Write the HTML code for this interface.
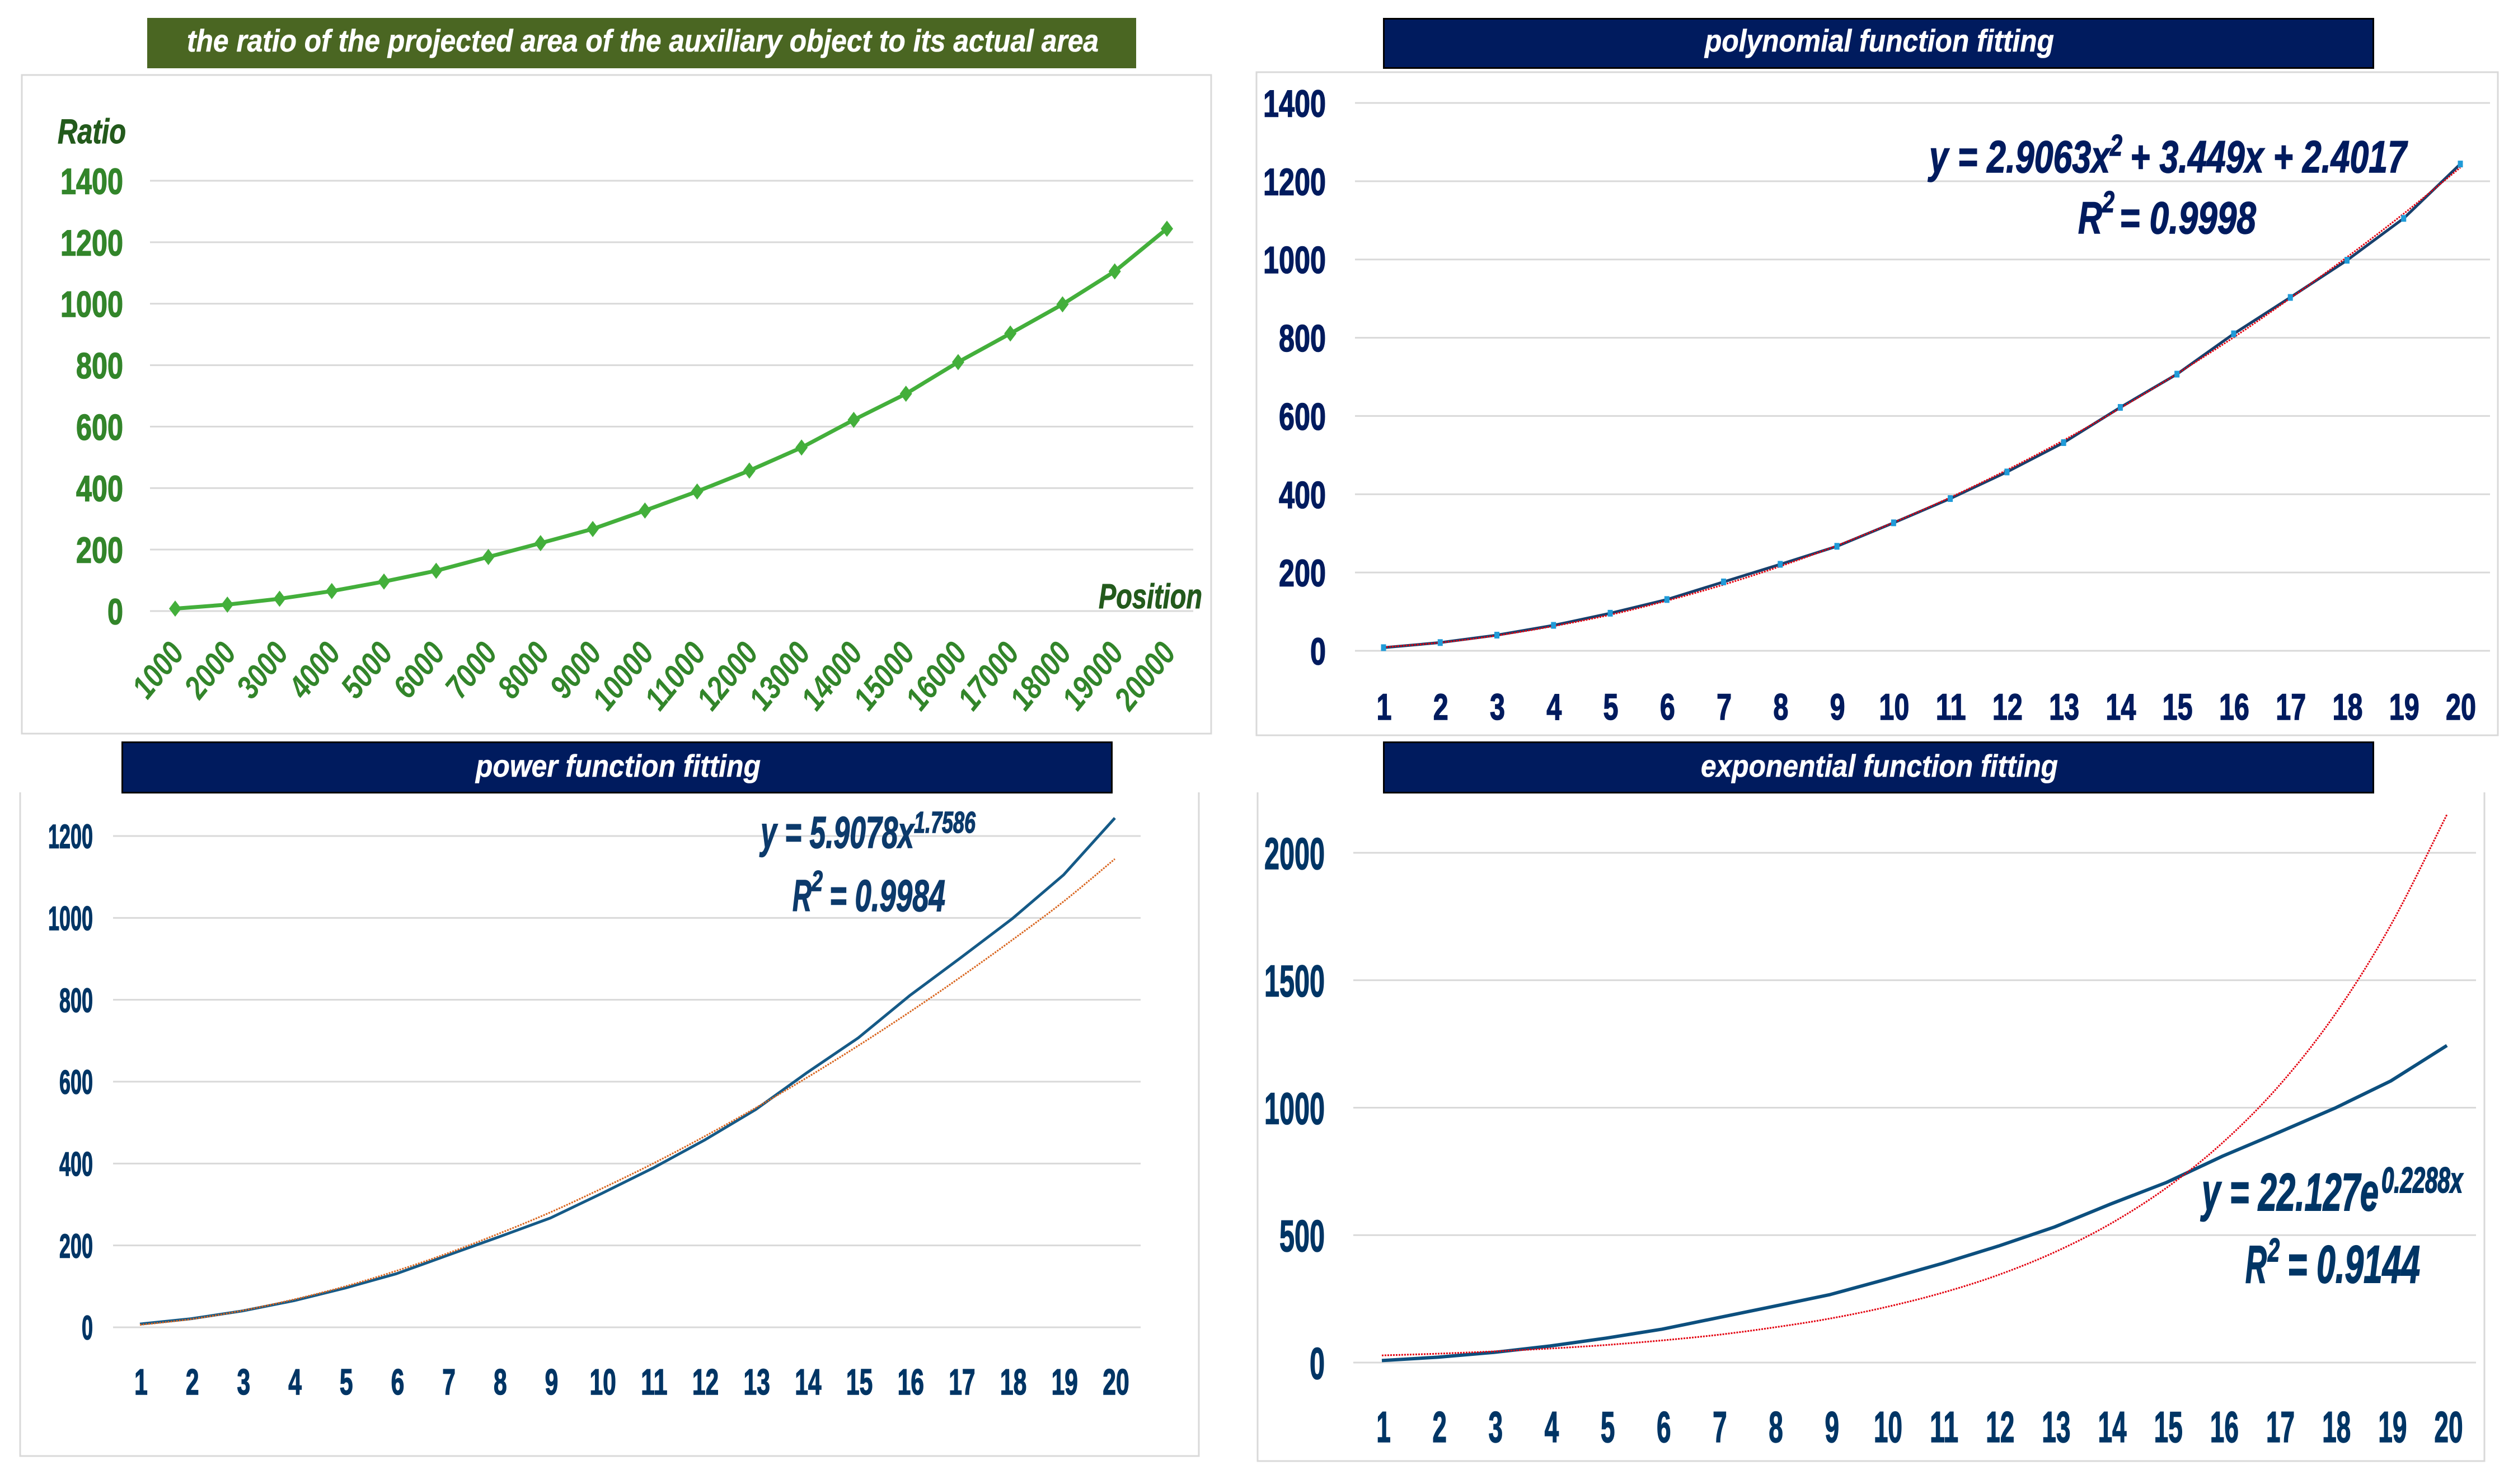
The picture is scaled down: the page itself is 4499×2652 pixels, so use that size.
<!DOCTYPE html>
<html lang="en">
<head>
<meta charset="utf-8">
<title>Projected area ratio and function fitting</title>
<style>
html,body{margin:0;padding:0;background:#fff;}
svg{display:block;font-family:"Liberation Sans",sans-serif;}
text{font-family:"Liberation Sans",sans-serif;font-weight:bold;}
.i{font-style:italic;}
</style>
</head>
<body>
<svg id="root" xmlns="http://www.w3.org/2000/svg" width="4499" height="2652" viewBox="0 0 4499 2652">
  <rect x="0" y="0" width="4499" height="2652" fill="#ffffff"/>

  <rect x="39" y="134" width="2125" height="1177" fill="#fff" stroke="#d9d9d9" stroke-width="3"/>
  <rect x="2245" y="129" width="2218" height="1185" fill="#fff" stroke="#d9d9d9" stroke-width="3"/>
  <path d="M36 1416 V2602 H2142 V1416" fill="none" stroke="#d9d9d9" stroke-width="3"/>
  <path d="M2247 1416 V2611 H4439 V1416" fill="none" stroke="#d9d9d9" stroke-width="3"/>

  <g id="chart-ratio"></g>
  <g id="chart-poly"></g>
  <g id="chart-power"></g>
  <g id="chart-exp"></g>

  <g>
    <rect x="263" y="32" width="1767" height="90" fill="#4a6622"/>
    <text class="i" x="334" y="92" font-size="56" fill="#ffffff" stroke="#ffffff" stroke-width="0.6" textLength="1629" lengthAdjust="spacingAndGlyphs">the ratio of the projected area of the auxiliary object to its actual area</text>
  </g>
  <g>
    <rect x="2472.5" y="33.5" width="1768" height="88" fill="#001b5e" stroke="#000" stroke-width="3"/>
    <text class="i" x="3046" y="92" font-size="56" fill="#ffffff" stroke="#ffffff" stroke-width="0.6" textLength="624" lengthAdjust="spacingAndGlyphs">polynomial function fitting</text>
  </g>
  <g>
    <rect x="218.5" y="1326.5" width="1768" height="90" fill="#001b5e" stroke="#000" stroke-width="3"/>
    <text class="i" x="850" y="1388" font-size="56" fill="#ffffff" stroke="#ffffff" stroke-width="0.6" textLength="509" lengthAdjust="spacingAndGlyphs">power function fitting</text>
  </g>
  <g>
    <rect x="2472.5" y="1326.5" width="1768" height="90" fill="#001b5e" stroke="#000" stroke-width="3"/>
    <text class="i" x="3039" y="1388" font-size="56" fill="#ffffff" stroke="#ffffff" stroke-width="0.6" textLength="638" lengthAdjust="spacingAndGlyphs">exponential function fitting</text>
  </g>

  <text class="i" x="103" y="256" font-size="62" fill="#235a1c" stroke="#235a1c" stroke-width="1" textLength="122" lengthAdjust="spacingAndGlyphs">Ratio</text>
  <text class="i" x="1963" y="1087" font-size="62" fill="#235a1c" stroke="#235a1c" stroke-width="1" textLength="185" lengthAdjust="spacingAndGlyphs">Position</text>

  <g fill="#001b5e" stroke="#001b5e" stroke-width="1.5">
    <text class="i" x="3447" y="308" font-size="81" textLength="323" lengthAdjust="spacingAndGlyphs">y = 2.9063x</text>
    <text class="i" x="3770" y="278" font-size="54" textLength="22" lengthAdjust="spacingAndGlyphs">2</text>
    <text class="i" x="3806" y="308" font-size="81" textLength="494" lengthAdjust="spacingAndGlyphs">+ 3.449x + 2.4017</text>
    <text class="i" x="3713" y="417" font-size="81" textLength="43" lengthAdjust="spacingAndGlyphs">R</text>
    <text class="i" x="3756" y="379" font-size="54" textLength="22" lengthAdjust="spacingAndGlyphs">2</text>
    <text class="i" x="3787" y="417" font-size="81" textLength="244" lengthAdjust="spacingAndGlyphs">= 0.9998</text>
  </g>
  <g fill="#0c3a6b" stroke="#0c3a6b" stroke-width="1.5">
    <text class="i" x="1359" y="1515" font-size="80" textLength="274" lengthAdjust="spacingAndGlyphs">y = 5.9078x</text>
    <text class="i" x="1633" y="1488" font-size="54" textLength="110" lengthAdjust="spacingAndGlyphs">1.7586</text>
    <text class="i" x="1416" y="1628" font-size="80" textLength="34" lengthAdjust="spacingAndGlyphs">R</text>
    <text class="i" x="1450" y="1592" font-size="52" textLength="20" lengthAdjust="spacingAndGlyphs">2</text>
    <text class="i" x="1482" y="1628" font-size="80" textLength="207" lengthAdjust="spacingAndGlyphs">= 0.9984</text>
  </g>
  <g fill="#003565" stroke="#003565" stroke-width="2">
    <text class="i" x="3934" y="2163" font-size="95" textLength="316" lengthAdjust="spacingAndGlyphs">y = 22.127e</text>
    <text class="i" x="4255" y="2131" font-size="64" textLength="145" lengthAdjust="spacingAndGlyphs">0.2288x</text>
    <text class="i" x="4012" y="2292" font-size="95" textLength="38" lengthAdjust="spacingAndGlyphs">R</text>
    <text class="i" x="4052" y="2254" font-size="58" textLength="21" lengthAdjust="spacingAndGlyphs">2</text>
    <text class="i" x="4087" y="2292" font-size="95" textLength="237" lengthAdjust="spacingAndGlyphs">= 0.9144</text>
  </g>
</svg>
<script>
const positionCategories = [1000,2000,3000,4000,5000,6000,7000,8000,9000,10000,11000,12000,13000,14000,15000,16000,17000,18000,19000,20000];
const indexCategories = [1,2,3,4,5,6,7,8,9,10,11,12,13,14,15,16,17,18,19,20];
const ratioValues = [8,21,40,65,96,131,176,221,267,327,389,457,532,622,707,810,903,998,1105,1244];
const polynomialTrend = [9,21,39,63,92,128,169,216,269,328,392,462,538,620,708,801,901,1006,1117,1235];
const powerTrend = [6,20,41,68,100,138,181,229,281,339,400,466,536,610,688,770,856,946,1040,1144];
const exponentialTrend = [28,35,44,55,69,87,109,138,173,218,274,344,433,545,686,863,1085,1365,1717,2150];
const ticks1400 = [0,200,400,600,800,1000,1200,1400];
const ticks1200 = [0,200,400,600,800,1000,1200];
const ticks2000 = [0,500,1000,1500,2000];

const NS = 'http://www.w3.org/2000/svg';
function make(parent, tag, attrs, txt) {
  const e = document.createElementNS(NS, tag);
  for (const k in attrs) e.setAttribute(k, attrs[k]);
  if (txt !== undefined) e.textContent = txt;
  parent.appendChild(e);
  return e;
}

function smoothPath(p) {
  let d = 'M' + p[0][0].toFixed(1) + ' ' + p[0][1].toFixed(1);
  for (let i = 0; i < p.length - 1; i++) {
    const a = p[Math.max(i - 1, 0)], b = p[i], c = p[i + 1], e = p[Math.min(i + 2, p.length - 1)];
    const c1x = b[0] + (c[0] - a[0]) / 6, c1y = b[1] + (c[1] - a[1]) / 6;
    const c2x = c[0] - (e[0] - b[0]) / 6, c2y = c[1] - (e[1] - b[1]) / 6;
    d += ' C' + c1x.toFixed(1) + ' ' + c1y.toFixed(1) + ' ' + c2x.toFixed(1) + ' ' + c2y.toFixed(1) + ' ' + c[0].toFixed(1) + ' ' + c[1].toFixed(1);
  }
  return d;
}

function drawChart(id, c) {
  const g = document.getElementById(id);
  const n = c.categories.length;
  const xScale = i => c.x0 + (c.x1 - c.x0) * i / (n - 1);
  const yScale = v => c.y0 + (c.yTop - c.y0) * v / c.tickMax;

  c.yTicks.forEach(t => {
    const line = make(g, 'line', {x1: c.gridL, x2: c.gridR, y1: yScale(t), y2: yScale(t), stroke: '#d9d9d9', 'stroke-width': 3});
    
    
    const s = String(t);
    const lab = make(g, 'text', {x: c.labelR - s.length * c.yDigitW, y: yScale(t) + c.yFont * 0.36, 'font-size': c.yFont, fill: c.labelColor, stroke: c.labelColor, 'stroke-width': 1.5, textLength: s.length * c.yDigitW, lengthAdjust: 'spacingAndGlyphs'}, s);
    
    
  });

  c.categories.forEach((cat, i) => {
    const s = String(cat);
    let lab;
    if (c.rotated) {
      const ax = xScale(i) + 18.5, ay = c.xLabelY;
      lab = make(g, 'text', {x: ax, y: ay, 'text-anchor': 'end', 'font-size': c.xFont, 'font-style': 'italic', fill: c.labelColor, textLength: s.length * c.xDigitW, lengthAdjust: 'spacingAndGlyphs', transform: 'rotate(-51 ' + ax + ' ' + ay + ')'}, s);
    } else {
      const w = s.length * c.xDigitW;
      lab = make(g, 'text', {x: xScale(i) + c.xLabelDx - w / 2, y: c.xLabelY, 'font-size': c.xFont, fill: c.labelColor, stroke: c.labelColor, 'stroke-width': 1.5, textLength: w, lengthAdjust: 'spacingAndGlyphs'}, s);
    }
    
    
  });

  const pts = a => a.map((v, i) => xScale(i).toFixed(1) + ',' + yScale(v).toFixed(1)).join(' ');
  const dataLine = make(g, 'polyline', {points: pts(c.values), fill: 'none', stroke: c.lineColor, 'stroke-width': c.lineW, 'stroke-linejoin': 'round'});
  
  

  if (c.trend) {
    const tr = make(g, 'path', {d: smoothPath(c.trend.map((v, i) => [xScale(i), yScale(v)])), fill: 'none', stroke: c.trendColor, 'stroke-width': 3, 'stroke-dasharray': '3 2'});
    
    
  }

  if (c.marker === 'diamond') {
    c.values.forEach((v, i) => {
      const x = xScale(i), y = yScale(v), r = 11, h = 14.5;
      const m = make(g, 'polygon', {points: (x - r) + ',' + y + ' ' + x + ',' + (y - h) + ' ' + (x + r) + ',' + y + ' ' + x + ',' + (y + h), fill: c.lineColor});
      
      
    });
  } else if (c.marker === 'square') {
    c.values.forEach((v, i) => {
      const m = make(g, 'rect', {x: xScale(i) - 4.5, y: yScale(v) - 6, width: 9, height: 12, fill: '#209bd8'});
      
      
    });
  }
}

drawChart('chart-ratio', {
  categories: positionCategories, values: ratioValues, yTicks: ticks1400, tickMax: 1400,
  x0: 313, x1: 2085, y0: 1092, yTop: 323, gridL: 268, gridR: 2132,
  labelR: 220, yFont: 65, yDigitW: 28, labelColor: '#32852a',
  rotated: true, xFont: 58, xDigitW: 27, xLabelY: 1168,
  lineColor: '#43af3b', lineW: 7, marker: 'diamond'
});
drawChart('chart-poly', {
  categories: indexCategories, values: ratioValues, trend: polynomialTrend, trendColor: '#e3000f', yTicks: ticks1400, tickMax: 1400,
  x0: 2472, x1: 4396, y0: 1163, yTop: 184, gridL: 2421, gridR: 4449,
  labelR: 2369, yFont: 68, yDigitW: 28, labelColor: '#001b5e',
  xFont: 66, xDigitW: 27, xLabelY: 1286, xLabelDx: 1,
  lineColor: '#17406d', lineW: 5, marker: 'square'
});
drawChart('chart-power', {
  categories: indexCategories, values: ratioValues, trend: powerTrend, trendColor: '#d9651e', yTicks: ticks1200, tickMax: 1200,
  x0: 250, x1: 1992, y0: 2372, yTop: 1494, gridL: 202, gridR: 2038,
  labelR: 166, yFont: 60, yDigitW: 20, labelColor: '#003565',
  xFont: 65, xDigitW: 23.7, xLabelY: 2492, xLabelDx: 2,
  lineColor: '#155a87', lineW: 5
});
drawChart('chart-exp', {
  categories: indexCategories, values: ratioValues, trend: exponentialTrend, trendColor: '#e3000f', yTicks: ticks2000, tickMax: 2000,
  x0: 2469, x1: 4372, y0: 2435, yTop: 1524, gridL: 2418, gridR: 4424,
  labelR: 2367, yFont: 80, yDigitW: 27, labelColor: '#003565',
  xFont: 78, xDigitW: 25.6, xLabelY: 2577, xLabelDx: 3,
  lineColor: '#0c4f7e', lineW: 6
});
</script>
</body>
</html>
